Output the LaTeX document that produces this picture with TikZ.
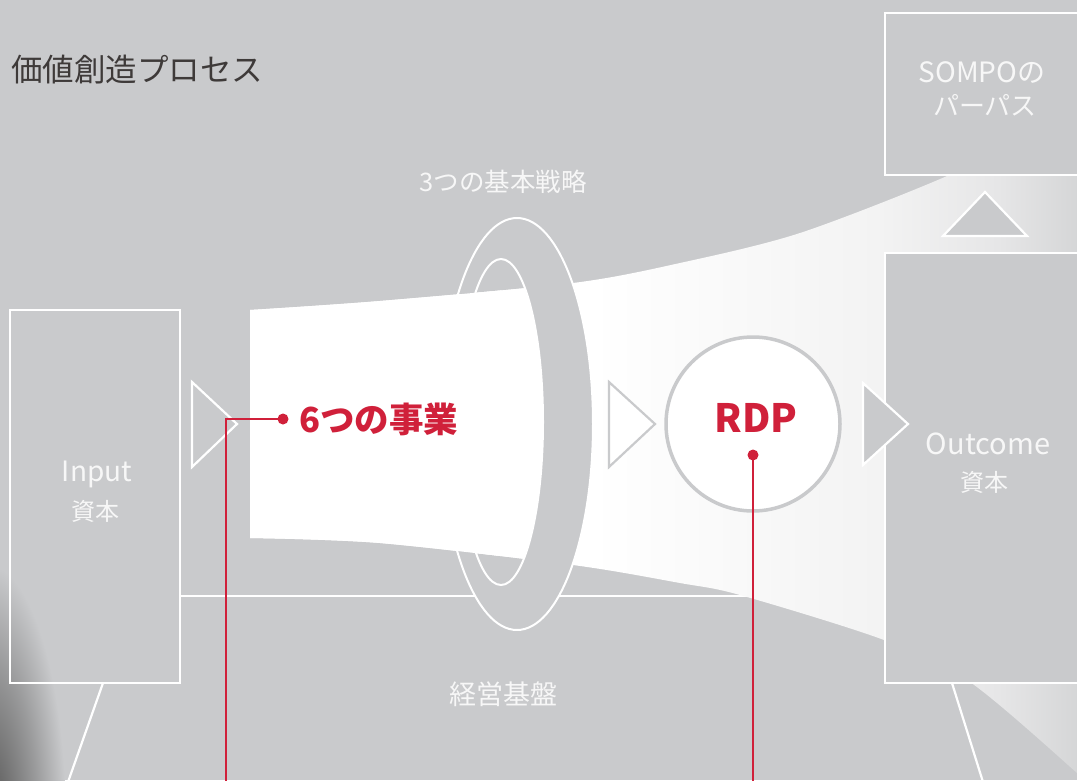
\documentclass[tikz,border=0pt]{standalone}
\usepackage{fontspec}
\setmainfont{Noto Sans CJK JP}
\definecolor{bgc}{RGB}{201,202,204}
\definecolor{redc}{RGB}{208,32,58}
\definecolor{titlec}{RGB}{62,58,57}
\definecolor{txtw}{RGB}{247,247,247}
\definecolor{fa}{RGB}{243,243,243}
\definecolor{fb}{RGB}{230,230,231}
\definecolor{fc}{RGB}{212,213,214}
\definecolor{shc}{RGB}{108,108,108}
% TikZ fits the path box to the central 50bp of a 100bp shading
\pgfdeclarehorizontalshading{funnelsh}{100bp}{color(0bp)=(white); color(45bp)=(white); color(62bp)=(fa); color(69bp)=(fb); color(74bp)=(fc); color(100bp)=(fc)}
\pgfdeclareradialshading{shadowsh}{\pgfpoint{0bp}{0bp}}{color(0bp)=(shc); color(6bp)=(shc); color(16bp)=(shc!50!bgc); color(25bp)=(bgc); color(50bp)=(bgc)}
\tikzset{
  boxline/.style={draw=white, line width=2.4},
  wline/.style={white, line width=2.2},
  redline/.style={redc, line width=2.6},
  wtxt/.style={text=txtw, inner sep=0},
  funnel/.style={shading=funnelsh, insert path={plot[smooth] coordinates {(250,310) (380,301) (573,283) (680,263) (800,233) (947,176) (1010,140) (1100,80)} -- (1100,800) -- plot[smooth] coordinates {(1100,797) (1077,773) (970,682) (884,640) (740,595) (680,583) (573,565) (380,543) (250,538)} -- cycle}},
}
\begin{document}
\begin{tikzpicture}[x=1pt,y=-1pt]
\useasboundingbox (0,0) rectangle (1077,780);
\clip (0,0) rectangle (1077,780);
\fill[bgc] (0,0) rectangle (1077,780);
% shadow bottom-left
\shade[shading=shadowsh] (-12,825) ellipse [x radius=78, y radius=260];
% base line
\coordinate (baseL) at (180,596);
\coordinate (baseR) at (885,596);
\draw[wline] (baseL) -- (baseR);
% funnel (behind ring)
\shade[funnel];
% ring
\draw[white, line width=2, fill=bgc, even odd rule] (517,424) ellipse [x radius=76, y radius=206] (501,422) ellipse [x radius=42, y radius=163];
% funnel passing in front of the ring's left half
\begin{scope}
  \clip (0,0) rectangle (501,780);
  \shade[funnel];
\end{scope}
\begin{scope}
  \clip (501,422) ellipse [x radius=41, y radius=162];
  \shade[funnel];
\end{scope}
% input box
\draw[boxline] (10,310) rectangle (180,683);
\node[wtxt, font=\fontsize{28}{30}\selectfont] (inp) at (97,474) {Input};
\node[wtxt, font=\fontsize{24}{26}\selectfont] (inpk) at (95,511) {資本};
\draw[white, line width=2.2, line join=miter] (192,382) -- (192,467) -- (237,424) -- cycle;
% outcome box and purpose box
\draw[boxline, fill=bgc] (885,253) rectangle (1095,683);
\draw[boxline, fill=bgc] (885,13) rectangle (1095,175);
\draw[white, line width=2.2, fill=bgc] (943,236) -- (985,192) -- (1027,236) -- cycle;
\node[wtxt, font=\fontsize{29}{31}\selectfont] (outc) at (988,444) {Outcome};
\node[wtxt, font=\fontsize{24}{26}\selectfont] (outk) at (984,482) {資本};
\node[wtxt, font=\fontsize{28}{30}\selectfont] (sompo) at (982,72) {SOMPOの};
\node[wtxt, font=\fontsize{26}{28}\selectfont] (purp) at (985,105) {パーパス};
% triangles
\draw[bgc, line width=2.2, fill=white] (609,382) -- (609,467) -- (655,424) -- cycle;
\draw[white, line width=2.2, fill=bgc] (863,383) -- (863,465) -- (908,424) -- cycle;
% perspective lines
\coordinate (inB) at (103,683);
\coordinate (inE) at (68,782);
\coordinate (ouB) at (952,683);
\coordinate (ouE) at (983,782);
\draw[wline] (inB) -- (inE);
\draw[wline] (ouB) -- (ouE);
% labels
\node[anchor=west, inner sep=0, text=titlec, font=\fontsize{31.5}{36}\selectfont] (title) at (11,70) {価値創造プロセス};
\node[wtxt, font=\fontsize{25.5}{27}\selectfont] (strat) at (503,182) {3つの基本戦略};
\node[wtxt, font=\fontsize{27}{29}\selectfont] (found) at (503,694) {経営基盤};
% RDP
\node[circle, draw=bgc, line width=3.5, fill=white, minimum size=174, inner sep=0] (rdp) at (753,424) {};
\node[text=redc, inner sep=0, font=\bfseries\fontsize{39}{40}\selectfont] (rdpt) at (756,418) {RDP};
\coordinate (rdpdot) at (753,455);
\coordinate (rdpend) at (753,790);
\draw[redline] (rdpdot) -- (rdpend);
\fill[redc] (rdpdot) circle (5.5);
% six businesses
\node[anchor=west, text=redc, inner sep=0, font=\bfseries\fontsize{34.5}{36}\selectfont] (biz) at (299,419) {6つの事業};
\coordinate (bizdot) at (283,419);
\coordinate (bizend) at (226,790);
\draw[redline] (bizdot) -| (bizend);
\fill[redc] (bizdot) circle (5.5);
\end{tikzpicture}
\end{document}
